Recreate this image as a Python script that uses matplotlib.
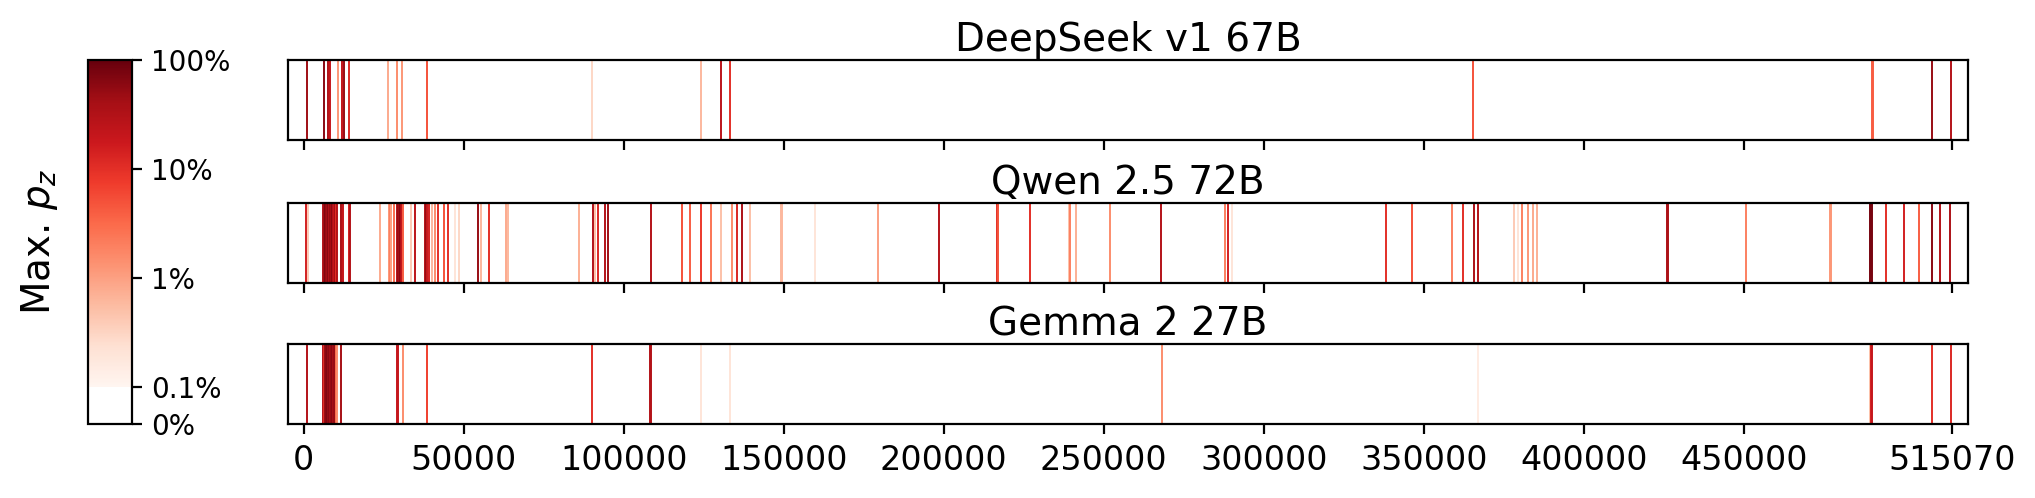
import numpy as np
import matplotlib
matplotlib.use("Agg")
import matplotlib.pyplot as plt
from matplotlib.colors import ListedColormap, SymLogNorm
from matplotlib.cm import ScalarMappable

# --- data: token ids with a high max p_z, per model ---
VOCAB = 515070
model_names = ["DeepSeek v1 67B", "Qwen 2.5 72B", "Gemma 2 27B"]

deepseek_ids = [970, 6220, 7440, 7900, 8200, 10660, 11800, 12100, 12440, 14130,
                26190, 29060, 30620, 38400, 89940, 124250, 130250, 133340,
                365250, 490000, 490250, 508880, 514690]
deepseek_p = [0.45, 0.6, 0.35, 0.25, 0.2, 0.012, 0.3, 0.2, 0.5, 0.12,
              0.008, 0.015, 0.012, 0.05, 0.003, 0.006, 0.25, 0.1,
              0.05, 0.04, 0.04, 0.5, 0.3]

qwen_ids = [840, 1300,
            6000, 6250, 6450, 6700, 6900, 7150, 7400, 7600, 7850, 8100, 8350,
            8600, 8850, 9100, 9350, 9600, 9900, 10200, 10500,
            11500, 11970, 12400, 14030, 14300, 23940, 26560, 27000, 27280, 28130,
            29060, 29400, 29700, 30000, 30300, 30600, 31090, 33500, 34690,
            37810, 38200, 38600, 39000, 39940, 41030, 42090, 43780, 45030,
            47370, 48560, 54530, 55500, 58000, 63300, 63720, 86120, 90400,
            91000, 92090, 94000, 95090, 108370, 118160, 120810, 124160, 127380,
            130250, 133720, 135280, 136940, 139340, 149000, 149300, 159660,
            179590, 198470, 216720, 217000, 227060, 239030, 239380, 241410,
            251810, 267840, 287810, 288660, 290090, 338280, 346190, 358700,
            362250, 365810, 366940, 378310, 379440, 380530, 382440, 384220,
            385220, 425900, 426200, 450530, 476800, 477100, 489400, 489700,
            490000, 494380, 499970, 504660, 508880, 511340, 514470]
qwen_p = [0.15, 0.004,
          0.3, 0.6, 0.4, 0.7, 0.5, 0.8, 0.4, 0.6, 0.3, 0.7, 0.5,
          0.4, 0.6, 0.3, 0.5, 0.2, 0.4, 0.1, 0.3,
          0.4, 0.3, 0.2, 0.15, 0.3, 0.008, 0.012, 0.02, 0.01, 0.03,
          0.3, 0.5, 0.4, 0.6, 0.3, 0.2, 0.04, 0.004, 0.25,
          0.3, 0.5, 0.2, 0.15, 0.006, 0.015, 0.1, 0.05, 0.1,
          0.002, 0.003, 0.5, 0.006, 0.1, 0.008, 0.006, 0.007, 0.3,
          0.005, 0.12, 0.3, 0.45, 0.3, 0.05, 0.04, 0.08, 0.025,
          0.005, 0.015, 0.12, 0.35, 0.005, 0.006, 0.006, 0.002,
          0.01, 0.3, 0.1, 0.05, 0.1, 0.005, 0.02, 0.007,
          0.015, 0.3, 0.02, 0.15, 0.002, 0.1, 0.05, 0.02,
          0.1, 0.35, 0.3, 0.004, 0.002, 0.02, 0.012, 0.008,
          0.007, 0.35, 0.35, 0.02, 0.012, 0.012, 0.8, 0.8,
          0.8, 0.1, 0.15, 0.04, 0.6, 0.3, 0.35]

gemma_ids = [970, 6000, 6300, 6600, 6900, 7200, 7500, 7800, 8100, 8400, 8700,
             9000, 9300, 9600, 9940, 10530, 11720, 29200, 29450, 30870, 38400,
             89940, 108250, 108500, 124250, 133340, 268090, 366940,
             489500, 489780, 489900, 508880, 514690]
gemma_p = [0.3, 0.3, 0.1, 0.5, 0.6, 0.7, 0.5, 0.6, 0.4, 0.5, 0.6,
           0.4, 0.3, 0.5, 0.03, 0.015, 0.4, 0.2, 0.2, 0.015, 0.07,
           0.1, 0.3, 0.3, 0.002, 0.002, 0.015, 0.0015,
           0.005, 0.15, 0.2, 0.1, 0.12]

xtick_vals = [0, 50000, 100000, 150000, 200000, 250000, 300000, 350000,
              400000, 450000, VOCAB]
cbar_ticks = [0, 0.001, 0.01, 0.1, 1]
cbar_labels = ["0%", "0.1%", "1%", "10%", "100%"]

# --- colour scale: white below 0.1%, Reds on a log scale above ---
norm = SymLogNorm(linthresh=1e-3, linscale=0.311, vmin=0, vmax=1, base=10)
lin_frac = norm(1e-3)
t = np.linspace(0, 1, 1024)
reds = plt.get_cmap("Reds")
colors = np.array([(1, 1, 1, 1) if v < lin_frac else reds((v - lin_frac) / (1 - lin_frac)) for v in t])
cmap = ListedColormap(colors)

fig = plt.figure(figsize=(2035 / 200, 498 / 200), dpi=200)

ax_left, ax_w, ax_h = 0.1414, 0.8257, 0.1616
bottoms = [0.7185, 0.4317, 0.1478]
all_ids = [deepseek_ids, qwen_ids, gemma_ids]
all_p = [deepseek_p, qwen_p, gemma_p]

axes = []
for i, name in enumerate(model_names):
    ax = fig.add_axes([ax_left, bottoms[i], ax_w, ax_h])
    ax.vlines(all_ids[i], 0, 1, colors=cmap(norm(np.array(all_p[i]))), linewidth=0.7)
    ax.set_xlim(-5000, VOCAB + 5000)
    ax.set_ylim(0, 1)
    ax.set_yticks([])
    ax.set_xticks(xtick_vals)
    if i < 2:
        ax.set_xticklabels([])
    else:
        ax.set_xticklabels([str(v) for v in xtick_vals], fontsize=12)
    ax.set_title(name, fontsize=14, pad=3)
    axes.append(ax)

cax = fig.add_axes([0.0432, bottoms[2], 0.0215, bottoms[0] + ax_h - bottoms[2]])
cbar = fig.colorbar(ScalarMappable(norm=norm, cmap=cmap), cax=cax)
cbar.set_ticks(cbar_ticks)
cbar.set_ticklabels(cbar_labels)
cbar.ax.minorticks_off()
cbar.ax.tick_params(labelsize=10)
cbar.ax.yaxis.set_label_position("left")
cbar.set_label("Max. $p_z$", fontsize=14, labelpad=10)

fig.savefig("out.png", dpi=200)
